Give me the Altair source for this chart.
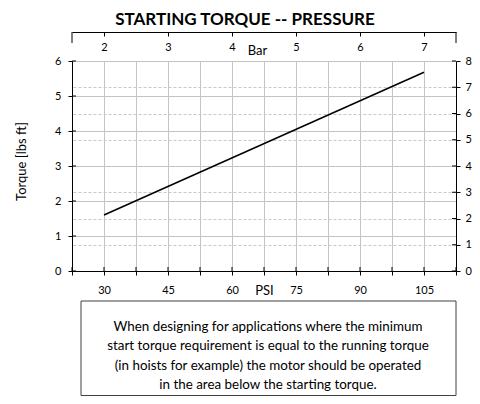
import altair as alt
import pandas as pd

# ---- data ----
psi = [30, 105]
torque = [1.6, 5.68]

psi_ticks = [22.5, 30, 37.5, 45, 52.5, 60, 67.5, 75, 82.5, 90, 97.5, 105, 112.5]
left_ticks = [0, 1, 2, 3, 4, 5, 6]
right_ticks = [0, 1, 2, 3, 4, 5, 6, 7, 8]
bar_ticks = [2, 3, 4, 5, 6, 7]
bar_ends = [1.5, 7.5]

title_text = "STARTING TORQUE -- PRESSURE"
y_title = "Torque [lbs ft]"
note_lines = [
    "When designing for applications where the minimum",
    "start torque requirement is equal to the running torque",
    "(in hoists for example) the motor should be operated",
    "in the area below the starting torque.",
]

FONT = "Lato"
W, H = 384, 210
GRID = "#c4c4c4"
DASH = "#c8c8c8"

x_psi = alt.Scale(domain=[22.5, 112.5], nice=False, zero=False)
x_bar = alt.Scale(domain=[1.5, 7.5], nice=False, zero=False)
y_left = alt.Scale(domain=[0, 6], nice=False, zero=False)
y_right = alt.Scale(domain=[0, 8], nice=False, zero=False)

df_line = pd.DataFrame({"psi": psi, "torque": torque})
df_psi = pd.DataFrame({"p": psi_ticks})
df_left = pd.DataFrame({"l": left_ticks})
df_right = pd.DataFrame({"r": right_ticks})
df_bar = pd.DataFrame({"b": bar_ends})
df_one = pd.DataFrame({"k": [0]})

# main line with bottom PSI axis and left torque axis
main = alt.Chart(df_line).mark_line(color="black", strokeWidth=1.5).encode(
    x=alt.X("psi:Q", scale=x_psi, axis=alt.Axis(
        values=psi_ticks, orient="bottom",
        labelExpr="datum.value % 15 == 0 ? datum.label : ''",
        title="PSI", titleX=192, titleY=19, titleBaseline="middle",
        titleFontSize=13, titleFontWeight="normal",
        grid=True, gridColor=GRID, gridWidth=1,
        tickSize=4, labelPadding=9, labelFontSize=11, labelFlush=False,
    )),
    y=alt.Y("torque:Q", scale=y_left, axis=alt.Axis(
        values=left_ticks, orient="left", title=y_title,
        titleFontSize=13, titleFontWeight="normal", titlePadding=26,
        titleY=100,
        grid=True, gridColor=GRID, gridWidth=1,
        tickSize=4, labelPadding=7, labelFontSize=11,
    )),
)

# right axis (0-8) with dashed grid + inner half of its ticks
right = alt.Chart(df_right).mark_rule(color="black", strokeWidth=1).encode(
    y=alt.Y("r:Q", scale=y_right, axis=alt.Axis(
        values=right_ticks, orient="right", title=None,
        grid=True, gridColor=DASH, gridDash=[3, 2], gridWidth=1,
        tickSize=4, labelPadding=5, labelFontSize=11,
    )),
    x=alt.value(W - 4), x2=alt.value(W),
)

# top Bar axis (drawn as a bottom-style axis lifted above the plot)
top = alt.Chart(df_bar).mark_rule(color="black", strokeWidth=1).encode(
    x=alt.X("b:Q", scale=x_bar, axis=alt.Axis(
        values=bar_ticks, orient="bottom", offset=-(H + 29),
        title="Bar", titleX=185, titleY=18, titleBaseline="middle",
        titleFontSize=13, titleFontWeight="normal",
        grid=False, tickSize=4, labelPadding=5, labelFontSize=11,
        domain=True,
    )),
    y=alt.value(-29), y2=alt.value(-18),
)

# inner halves of crossing ticks on left and bottom axes
left_in = alt.Chart(df_left).mark_rule(color="black", strokeWidth=1).encode(
    y=alt.Y("l:Q", scale=y_left, axis=None),
    x=alt.value(0), x2=alt.value(4),
)
bottom_in = alt.Chart(df_psi).mark_rule(color="black", strokeWidth=1).encode(
    x=alt.X("p:Q", scale=x_psi, axis=None),
    y=alt.value(H - 4), y2=alt.value(H),
)

# note box
box = alt.Chart(df_one).mark_rect(fill="white", stroke="#404040", strokeWidth=1).encode(
    x=alt.value(9), x2=alt.value(W), y=alt.value(240), y2=alt.value(334.5),
)
note = alt.Chart(df_one).mark_text(
    text=note_lines, font=FONT, fontSize=13.4, lineHeight=19.3,
    align="center", baseline="middle", color="black",
).encode(x=alt.value(196), y=alt.value(266))

chart = alt.layer(right, top, main, left_in, bottom_in, box, note).resolve_scale(
    x="independent", y="independent"
).properties(
    width=W, height=H,
    title=alt.TitleParams(title_text, fontSize=17, fontWeight="bold", font=FONT,
                          anchor="middle", dx=-19, dy=1, color="black"),
    autosize=alt.AutoSizeParams(type="none"),
    padding={"left": 64, "top": 53, "right": 16, "bottom": 125},
).configure_view(stroke=None).configure_axis(
    labelFont=FONT, titleFont=FONT, labelColor="black", titleColor="black",
    domainColor="black", tickColor="black", domainWidth=1, tickWidth=1,
)

chart.save("out.html", embed_options={"renderer": "svg", "actions": False})
